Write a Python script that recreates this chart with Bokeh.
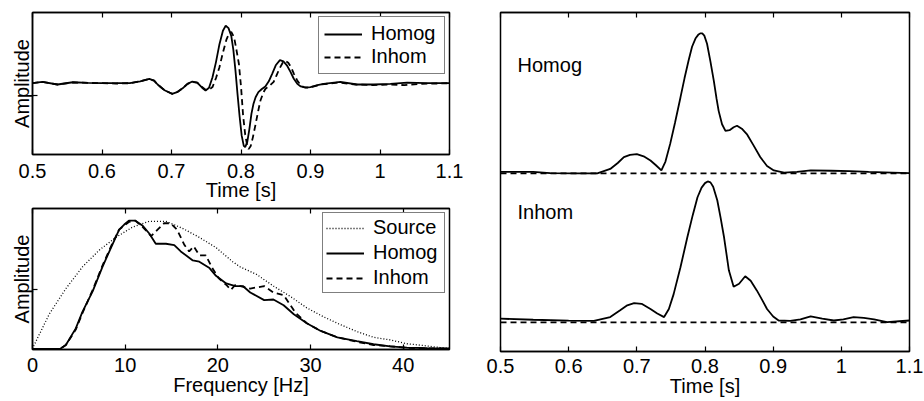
from bokeh.plotting import figure
from bokeh.layouts import row, column
from bokeh.models import Range1d, LinearAxis, FixedTicker
from bokeh.embed import file_html
from bokeh.resources import INLINE
from bokeh.core.properties import value

FONT = "Liberation Sans"
FS = "20px"
LW = 1.8

# ---------------- data: top-left traces ----------------
trace_t_homog = [0.50, 0.514, 0.536, 0.558, 0.58, 0.60, 0.62, 0.64, 0.655, 0.668, 0.675, 0.680, 0.690,
                 0.701, 0.708, 0.716, 0.723, 0.730, 0.737, 0.744, 0.749, 0.754, 0.759, 0.764, 0.769,
                 0.774, 0.778, 0.782, 0.786, 0.789, 0.792, 0.795, 0.798, 0.801, 0.804, 0.806, 0.809,
                 0.812, 0.815, 0.818, 0.821, 0.825, 0.830, 0.835, 0.840, 0.845, 0.850, 0.856, 0.861,
                 0.866, 0.871, 0.876, 0.881, 0.886, 0.893, 0.900, 0.910, 0.919, 0.943, 0.967, 0.991,
                 1.015, 1.039, 1.068, 1.10]
trace_a_homog = [0.00, 0.02, -0.02, 0.015, 0.005, 0.00, 0.00, 0.00, 0.03, 0.068, 0.04, -0.02, -0.11,
                 -0.167, -0.14, -0.08, -0.01, 0.026, 0.01, -0.07, -0.115, -0.07, 0.094, 0.33, 0.61,
                 0.82, 0.90, 0.86, 0.74, 0.52, 0.20, -0.17, -0.52, -0.82, -0.98, -1.00, -0.92,
                 -0.72, -0.48, -0.32, -0.22, -0.14, -0.09, -0.05, 0.03, 0.15, 0.28, 0.36, 0.34,
                 0.28, 0.18, 0.07, -0.01, -0.05, -0.07, -0.06, -0.03, -0.01, 0.02, -0.02, -0.02,
                 -0.01, 0.01, 0.00, 0.00]

trace_t_inhom = [0.50, 0.514, 0.536, 0.558, 0.58, 0.60, 0.62, 0.64, 0.655, 0.668, 0.675, 0.680, 0.690,
                 0.701, 0.708, 0.716, 0.723, 0.730, 0.737, 0.744, 0.749, 0.754, 0.759, 0.764, 0.769,
                 0.774, 0.779, 0.783, 0.786, 0.790, 0.793, 0.797, 0.800, 0.803, 0.806, 0.809, 0.811,
                 0.814, 0.817, 0.821, 0.825, 0.828, 0.832, 0.835, 0.841, 0.847, 0.851, 0.855, 0.860,
                 0.864, 0.868, 0.872, 0.876, 0.881, 0.886, 0.890, 0.897, 0.905, 0.915, 0.940, 0.965,
                 0.990, 1.015, 1.035, 1.060, 1.10]
trace_a_inhom = [0.00, 0.02, -0.02, 0.012, 0.005, 0.00, -0.005, 0.00, 0.03, 0.065, 0.04, -0.02, -0.11,
                 -0.165, -0.14, -0.08, -0.01, 0.02, 0.01, -0.06, -0.10, -0.10, -0.06, 0.08, 0.25,
                 0.48, 0.68, 0.78, 0.80, 0.72, 0.55, 0.30, -0.05, -0.50, -0.80, -0.98, -1.03,
                 -0.98, -0.85, -0.64, -0.42, -0.27, -0.15, -0.09, -0.04, 0.02, 0.12, 0.22, 0.32,
                 0.35, 0.32, 0.25, 0.15, 0.04, -0.03, -0.06, -0.07, -0.05, -0.02, 0.01, -0.02,
                 -0.03, -0.02, -0.03, -0.01, 0.00]

# ---------------- data: bottom-left spectra ----------------
spec_f_source = [0, 0.18, 1.8, 3.6, 5.4, 7.2, 9.0, 10.8, 12.6, 14.4, 16.2, 18.0, 19.8, 21.6, 22.4,
                 24.2, 26.0, 27.8, 29.6, 31.4, 33.2, 35.0, 36.8, 38.6, 40.4, 42.2, 44.0, 45.0]
spec_a_source = [0, 0.03, 0.27, 0.47, 0.64, 0.77, 0.87, 0.95, 0.995, 0.995, 0.94, 0.87, 0.79, 0.68, 0.64,
                 0.58, 0.49, 0.41, 0.32, 0.25, 0.19, 0.135, 0.09, 0.07, 0.04, 0.026, 0.01, 0.005]

spec_f_homog = [0, 3.0, 3.6, 4.67, 5.4, 6.5, 7.55, 8.6, 9.35, 9.9, 10.4, 11.1, 11.9, 12.6, 13.3, 14.4,
                15.3, 16.0, 17.3, 18.0, 19.1, 19.8, 20.9, 21.9, 22.7, 23.5, 25.0, 26.0, 27.1, 28.2,
                29.6, 31.1, 32.9, 35.0, 36.8, 38.6, 40.4, 42.6, 45.0]
spec_a_homog = [0, 0.0, 0.03, 0.16, 0.29, 0.45, 0.64, 0.81, 0.93, 0.97, 1.0, 1.0, 0.96, 0.90, 0.82, 0.82,
                0.81, 0.76, 0.69, 0.68, 0.63, 0.57, 0.51, 0.49, 0.49, 0.44, 0.38, 0.385, 0.34, 0.27,
                0.20, 0.14, 0.09, 0.06, 0.036, 0.02, 0.01, 0.005, 0.003]

spec_f_inhom = [0, 3.0, 3.6, 4.67, 5.4, 6.5, 7.55, 8.6, 9.35, 10.4, 11.1, 11.9, 12.8, 13.5, 14.2, 14.9,
                15.6, 16.4, 16.9, 17.4, 18.0, 18.7, 19.4, 20.1, 20.9, 21.4, 21.9, 23.5, 25.0, 26.0,
                27.1, 28.4, 29.6, 31.1, 32.9, 35.0, 36.8, 38.6, 40.4, 42.6, 45.0]
spec_a_inhom = [0, 0, 0.03, 0.15, 0.28, 0.46, 0.65, 0.82, 0.93, 0.99, 1.0, 0.95, 0.88, 0.93, 0.98, 0.98,
                0.93, 0.81, 0.76, 0.80, 0.73, 0.73, 0.63, 0.55, 0.50, 0.46, 0.50, 0.47, 0.49, 0.44,
                0.42, 0.28, 0.20, 0.14, 0.09, 0.055, 0.03, 0.02, 0.008, 0.004, 0.002]

# ---------------- data: right envelopes ----------------
env_t_homog = [0.5, 0.548, 0.573, 0.61, 0.642, 0.661, 0.672, 0.681, 0.690, 0.700, 0.710, 0.720, 0.728,
               0.736, 0.742, 0.749, 0.756, 0.764, 0.770, 0.776, 0.781, 0.786, 0.790, 0.793, 0.796,
               0.799, 0.803, 0.808, 0.813, 0.817, 0.820, 0.825, 0.830, 0.836, 0.842, 0.847, 0.854,
               0.862, 0.871, 0.881, 0.891, 0.901, 0.916, 0.935, 0.955, 0.985, 1.013, 1.040, 1.062,
               1.10]
env_a_homog = [0.01, 0.01, 0.002, 0.0, 0.0, 0.03, 0.07, 0.11, 0.125, 0.13, 0.115, 0.087, 0.055,
               0.02, 0.08, 0.20, 0.34, 0.51, 0.64, 0.76, 0.85, 0.905, 0.93, 0.94, 0.94,
               0.925, 0.87, 0.75, 0.62, 0.50, 0.42, 0.33, 0.285, 0.29, 0.31, 0.32, 0.30,
               0.26, 0.19, 0.11, 0.05, 0.02, 0.005, 0.01, 0.02, 0.018, 0.015, 0.01, 0.007,
               0.002]

env_t_inhom = [0.5, 0.548, 0.60, 0.637, 0.661, 0.675, 0.686, 0.696, 0.707, 0.72, 0.73, 0.74, 0.747,
               0.754, 0.764, 0.774, 0.782, 0.789, 0.795, 0.800, 0.804, 0.808, 0.812, 0.818, 0.823,
               0.828, 0.835, 0.842, 0.850, 0.859, 0.867, 0.876, 0.884, 0.891, 0.900, 0.908, 0.925,
               0.940, 0.955, 0.972, 0.989, 1.003, 1.018, 1.033, 1.048, 1.067, 1.085, 1.10]
env_a_inhom = [0.025, 0.018, 0.012, 0.01, 0.036, 0.08, 0.115, 0.13, 0.125, 0.09, 0.06, 0.036, 0.09,
               0.19, 0.37, 0.57, 0.72, 0.84, 0.905, 0.935, 0.946, 0.94, 0.91, 0.82, 0.70,
               0.57, 0.35, 0.24, 0.26, 0.31, 0.28, 0.215, 0.15, 0.09, 0.04, 0.013, 0.01,
               0.02, 0.04, 0.025, 0.013, 0.02, 0.036, 0.03, 0.02, 0.002, 0.008, 0.013]
env_offset_homog = 1.0
env_offset_inhom = 0.0

# ---------------- ticks / labels ----------------
time_ticks = [0.5, 0.6, 0.7, 0.8, 0.9, 1.0, 1.1]
time_labels = ["0.5", "0.6", "0.7", "0.8", "0.9", "1", "1.1"]
freq_ticks = [0, 10, 20, 30, 40]
freq_labels = ["0", "10", "20", "30", "40"]
trace_yticks = [-0.19]
spec_yticks = [0.46]
time_range = [0.5, 1.1]
freq_range = [0, 45]


def style_axis(ax, ticks, labels, standoff, label_standoff):
    ax.ticker = FixedTicker(ticks=ticks)
    ax.major_label_overrides = {t: l for t, l in zip(ticks, labels)}
    ax.axis_line_color = "black"
    ax.axis_line_width = 1.5
    ax.major_tick_line_color = "black"
    ax.major_tick_line_width = 1.2
    ax.major_tick_in = 5
    ax.major_tick_out = 0
    ax.minor_tick_line_color = None
    ax.major_label_text_font = FONT
    ax.major_label_text_font_size = FS
    ax.major_label_text_color = "black"
    ax.major_label_standoff = standoff
    ax.axis_label_text_font = FONT
    ax.axis_label_text_font_size = FS
    ax.axis_label_text_font_style = "normal"
    ax.axis_label_text_color = "black"
    ax.axis_label_standoff = label_standoff


def add_top_axis(p, ticks):
    ax = LinearAxis(ticker=FixedTicker(ticks=ticks))
    ax.major_label_overrides = {t: "" for t in ticks}
    ax.major_label_text_font_size = "0px"
    ax.major_label_standoff = 0
    ax.major_tick_in = 5
    ax.major_tick_out = 0
    ax.major_tick_line_width = 1.2
    ax.minor_tick_line_color = None
    ax.axis_line_color = "black"
    ax.axis_line_width = 1.5
    p.add_layout(ax, "above")


def base_fig(w, h, xr, yr, bl, br, bt, bb):
    p = figure(width=w, height=h, x_range=Range1d(*xr), y_range=Range1d(*yr),
               output_backend="svg", toolbar_location=None,
               min_border_left=bl, min_border_right=br, min_border_top=bt, min_border_bottom=bb)
    p.outline_line_color = "black"
    p.outline_line_width = 1.5
    p.outline_line_alpha = 1.0
    p.xgrid.visible = False
    p.ygrid.visible = False
    p.background_fill_color = "white"
    p.border_fill_color = "white"
    return p


def style_legend(p, pad, spacing):
    lg = p.legend[0]
    lg.location = "top_right"
    lg.margin = 4
    lg.border_line_color = "black"
    lg.border_line_width = 1.2
    lg.background_fill_color = "white"
    lg.background_fill_alpha = 1.0
    lg.label_text_font = FONT
    lg.label_text_font_size = FS
    lg.label_text_color = "black"
    lg.glyph_width = 38
    lg.glyph_height = 20
    lg.label_height = 20
    lg.label_width = 68
    lg.label_standoff = 9
    lg.padding = pad
    lg.spacing = spacing


# ---------- top-left ----------
pA = base_fig(463, 206, time_range, [-1.114, 1.105], 32, 14, 12, 52)
pA.line(trace_t_homog, trace_a_homog, line_color="black", line_width=LW, legend_label="Homog")
pA.line(trace_t_inhom, trace_a_inhom, line_color="black", line_width=LW, line_dash="6 4",
        legend_label="Inhom")
style_axis(pA.xaxis[0], time_ticks, time_labels, 9, -2)
pA.xaxis[0].axis_label = "Time [s]"
style_axis(pA.yaxis[0], trace_yticks, ["" for _ in trace_yticks], 0, 0)
pA.yaxis[0].axis_label = "Amplitude"
add_top_axis(pA, time_ticks)
style_legend(pA, 5, 0)

# ---------- bottom-left ----------
pB = base_fig(463, 195, freq_range, [-0.005, 1.095], 32, 14, 2, 52)
pB.line(spec_f_source, spec_a_source, line_color="black", line_width=1.3, line_dash="1 2",
        legend_label="Source")
pB.line(spec_f_homog, spec_a_homog, line_color="black", line_width=LW, legend_label="Homog")
pB.line(spec_f_inhom, spec_a_inhom, line_color="black", line_width=LW, line_dash="6 4",
        legend_label="Inhom")
style_axis(pB.xaxis[0], freq_ticks, freq_labels, 8, -1)
pB.xaxis[0].axis_label = "Frequency [Hz]"
style_axis(pB.yaxis[0], spec_yticks, ["" for _ in spec_yticks], 0, 0)
pB.yaxis[0].axis_label = "Amplitude"
add_top_axis(pB, freq_ticks)
style_legend(pB, 3, 2)

# ---------- right ----------
pC = base_fig(461, 401, time_range, [-0.195, 2.08], 37, 15, 12, 50)
pC.line(time_range, [env_offset_homog, env_offset_homog], line_color="black", line_width=LW,
        line_dash="6 4")
pC.line(time_range, [env_offset_inhom, env_offset_inhom], line_color="black", line_width=LW,
        line_dash="6 4")
pC.line(env_t_homog, [a + env_offset_homog for a in env_a_homog], line_color="black", line_width=LW)
pC.line(env_t_inhom, [a + env_offset_inhom for a in env_a_inhom], line_color="black", line_width=LW)
pC.text(x=[0.525, 0.525], y=[1.73, 0.74], text=["Homog", "Inhom"], text_font=value(FONT),
        text_font_size=value(FS), text_color="black", text_baseline="alphabetic", text_align="left")
style_axis(pC.xaxis[0], time_ticks, time_labels, 7, -1)
pC.xaxis[0].axis_label = "Time [s]"
pC.yaxis.visible = False
add_top_axis(pC, time_ticks)

layout = row(column(pA, pB), pC)
open("out.html", "w").write(file_html(layout, INLINE))
